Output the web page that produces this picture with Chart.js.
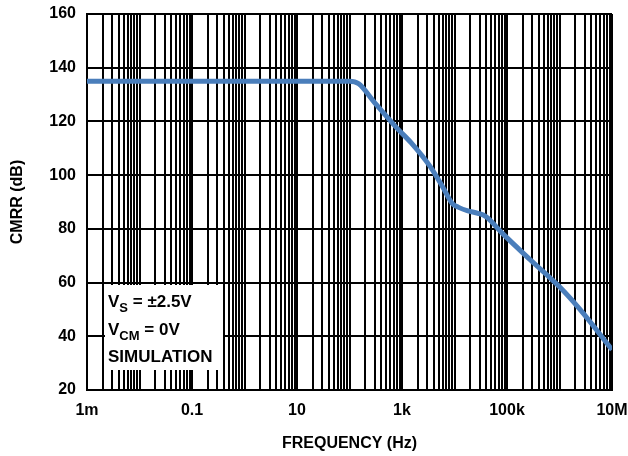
<!DOCTYPE html>
<html>
<head>
<meta charset="utf-8">
<script src="https://cdn.jsdelivr.net/npm/chart.js@4.4.1/dist/chart.umd.min.js"></script>
<style>
  html, body { margin: 0; padding: 0; background: #fff; }
  #wrap { width: 628px; height: 456px; }
</style>
</head>
<body>
<div id="wrap"><canvas id="myChart" width="628" height="456"></canvas></div>
<script>
// frequency (Hz) and CMRR (dB)
var freqs = [0.001, 100, 150, 300, 800, 1500, 3500, 6000, 9000, 12000, 18000, 28000, 40000, 80000, 280000, 1000000, 2500000, 10000000];
var cmrr  = [135, 135, 134, 127, 117.5, 112, 103, 95.5, 89.5, 88, 86.7, 85.8, 84.5, 78.5, 68.4, 58.4, 49.8, 35];

var xTickValues = [0.001, 0.1, 10, 1000, 100000, 10000000];
var xTickLabels = ['1m', '0.1', '10', '1k', '100k', '10M'];
var yTicks = [20, 40, 60, 80, 100, 120, 140, 160];

var noteLines = [['V', 'S', ' = ±2.5V'], ['V', 'CM', ' = 0V'], ['SIMULATION', '', '']];

var FONT = '"Liberation Sans", Arial, sans-serif';

// note box drawn on top of the grid
var notePlugin = {
    id: 'note',
    afterDatasetsDraw: function(chart) {
        var ctx = chart.ctx;
        ctx.save();
        ctx.fillStyle = '#fff';
        ctx.fillRect(105, 285, 118, 85);
        ctx.fillStyle = '#000';
        ctx.textBaseline = 'alphabetic';
        var y = 307;
        noteLines.forEach(function(l) {
            var x = 108;
            ctx.font = 'bold 17px ' + FONT;
            ctx.fillText(l[0], x, y);
            x += ctx.measureText(l[0]).width;
            if (l[1]) {
                ctx.font = 'bold 13px ' + FONT;
                ctx.fillText(l[1], x, y + 5);
                x += ctx.measureText(l[1]).width;
            }
            ctx.font = 'bold 17px ' + FONT;
            ctx.fillText(l[2], x, y);
            y += 27.5;
        });
        ctx.restore();
    }
};

var points = freqs.map(function(f, i) { return {x: f, y: cmrr[i]}; });

var ctx = document.getElementById('myChart').getContext('2d');
var myChart = new Chart(ctx, {
    type: 'line',
    data: {
        datasets: [{
            data: points,
            borderColor: '#4a7ebb',
            borderWidth: 5,
            pointRadius: 0,
            cubicInterpolationMode: 'monotone',
            fill: false
        }]
    },
    options: {
        responsive: false,
        animation: false,
        layout: { padding: { top: 14, right: 16, left: 0, bottom: 0 } },
        plugins: { legend: { display: false }, tooltip: { enabled: false } },
        scales: {
            x: {
                type: 'logarithmic',
                min: 0.001,
                max: 10000000,
                afterBuildTicks: function(scale) {
                    var t = [];
                    for (var e = -3; e <= 6; e++) {
                        for (var m = 1; m <= 9; m++) t.push({value: m * Math.pow(10, e)});
                    }
                    t.push({value: 1e7});
                    scale.ticks = t;
                },
                afterFit: function(scale) {
                    scale.height = 66;
                    scale.paddingLeft = 0;
                    scale.paddingRight = 0;
                },
                grid: { color: '#000', lineWidth: 2, drawTicks: false },
                border: { color: '#000', width: 2 },
                ticks: {
                    autoSkip: false,
                    maxRotation: 0,
                    padding: 11,
                    color: '#000',
                    font: { family: FONT, size: 16, weight: 'bold' },
                    callback: function(v) {
                        for (var i = 0; i < xTickValues.length; i++) {
                            if (Math.abs(v / xTickValues[i] - 1) < 1e-6) return xTickLabels[i];
                        }
                        return '';
                    }
                },
                title: {
                    display: true,
                    text: 'FREQUENCY (Hz)',
                    color: '#000',
                    font: { family: FONT, size: 16, weight: 'bold' },
                    padding: { top: 0, bottom: 3 }
                }
            },
            y: {
                min: yTicks[0],
                max: yTicks[yTicks.length - 1],
                ticks: {
                    stepSize: 20,
                    padding: 11,
                    color: '#000',
                    font: { family: FONT, size: 16, weight: 'bold' }
                },
                afterFit: function(scale) {
                    scale.width = 87;
                    scale.paddingTop = 0;
                    scale.paddingBottom = 0;
                },
                grid: { color: '#000', lineWidth: 2, drawTicks: false },
                border: { color: '#000', width: 2 },
                title: {
                    display: true,
                    text: 'CMRR (dB)',
                    color: '#000',
                    font: { family: FONT, size: 16, weight: 'bold' },
                    padding: { top: 8, bottom: 0 }
                }
            }
        }
    },
    plugins: [notePlugin]
});
</script>
</body>
</html>
